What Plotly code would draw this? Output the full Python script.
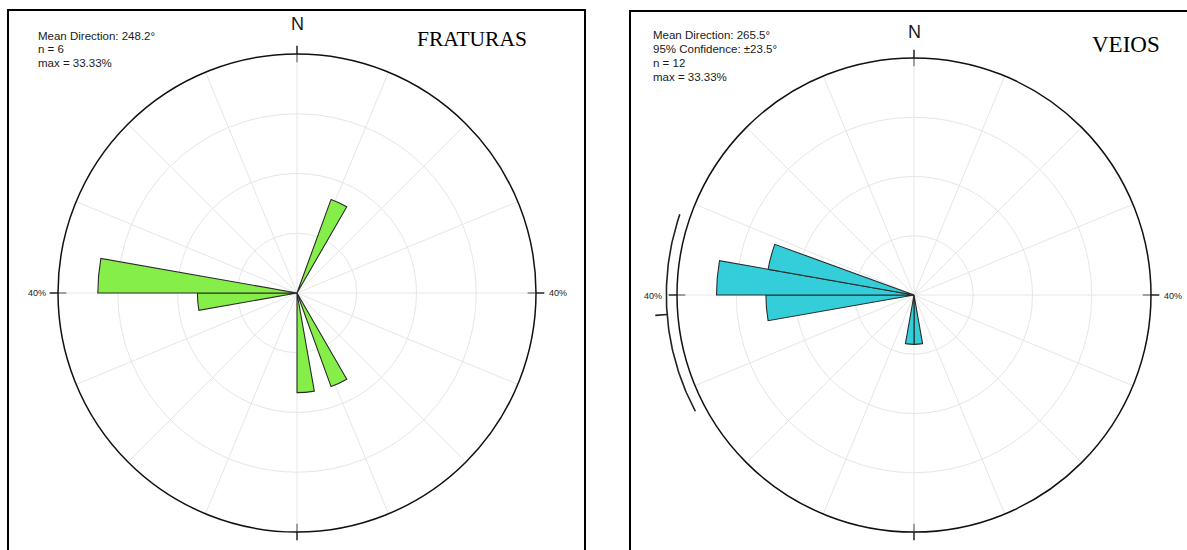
import numpy as np
import plotly.graph_objects as go

W, H = 1187, 550

# ---------------- data ----------------
frat_bin_start = [20, 150, 170, 260, 270]
frat_pct = [16.67, 16.67, 16.67, 16.67, 33.33]
frat_mean = 248.2
frat_n = 6

veio_bin_start = [170, 180, 260, 270, 280]
veio_pct = [8.33, 8.33, 25.0, 33.33, 25.0]
veio_mean = 265.5
veio_conf = 23.5
veio_n = 12

cardinal_dirs = [0, 90, 180, 270]
bin_width = 10
max_pct = 40
grid_pct = [10, 20, 30]

GREEN = "#86ee48"
CYAN = "#33ced9"

fig = go.Figure()


def px_x(x):
    return x / W


def px_y(y):
    return 1 - y / H


def xy(r, theta_deg):
    t = np.radians(np.asarray(theta_deg, dtype=float))
    r = np.asarray(r, dtype=float)
    return r * np.sin(t), r * np.cos(t)


def add_rose(polar, xa, ya, starts, pcts, color):
    fig.add_trace(go.Barpolar(
        r=pcts, theta=[s + bin_width / 2 for s in starts], width=[bin_width] * len(starts),
        marker=dict(color=color, line=dict(color="#2a2a2a", width=1.1)),
        subplot=polar, showlegend=False, hoverinfo="skip"))
    # cardinal ticks crossing the outer circle (drawn on an overlaid cartesian frame)
    xs, ys = [], []
    for a in cardinal_dirs:
        x, y = xy([max_pct * 0.965, max_pct * 1.035], [a, a])
        xs += list(x) + [None]
        ys += list(y) + [None]
    fig.add_trace(go.Scatter(x=xs, y=ys, mode="lines", xaxis=xa, yaxis=ya,
                             line=dict(color="black", width=1.3),
                             showlegend=False, hoverinfo="skip", cliponaxis=False))


add_rose("polar", "x", "y", frat_bin_start, frat_pct, GREEN)
add_rose("polar2", "x2", "y2", veio_bin_start, veio_pct, CYAN)

# confidence arc and mean-direction mark (VEIOS)
arc_th = np.linspace(veio_mean - veio_conf, veio_mean + veio_conf, 80)
ax_, ay_ = xy(np.full(arc_th.shape, max_pct * 1.045), arc_th)
fig.add_trace(go.Scatter(x=ax_, y=ay_, mode="lines", xaxis="x2", yaxis="y2",
                         line=dict(color="#222222", width=1.6),
                         showlegend=False, hoverinfo="skip", cliponaxis=False))
mx, my = xy([max_pct * 1.045, max_pct * 1.095], [veio_mean, veio_mean])
fig.add_trace(go.Scatter(x=mx, y=my, mode="lines", xaxis="x2", yaxis="y2",
                         line=dict(color="#222222", width=1.6),
                         showlegend=False, hoverinfo="skip", cliponaxis=False))


def domains(cx, cy, R):
    return [px_x(cx - R), px_x(cx + R)], [px_y(cy + R), px_y(cy - R)]


def polar_layout(cx, cy, R):
    dx, dy = domains(cx, cy, R)
    return dict(
        domain=dict(x=dx, y=dy),
        bgcolor="rgba(0,0,0,0)",
        angularaxis=dict(rotation=90, direction="clockwise", dtick=22.5,
                         showticklabels=False, ticks="", gridcolor="#e6e6e6",
                         gridwidth=1, linecolor="#111111", linewidth=1.5, showline=True),
        radialaxis=dict(range=[0, max_pct], tickvals=grid_pct, showticklabels=False,
                        ticks="", showline=False, gridcolor="#e6e6e6", gridwidth=1),
        barmode="overlay",
    )


def cart_axes(cx, cy, R):
    # full-paper cartesian frame with the same scale/centre as the polar subplot
    k = max_pct / R
    xa = dict(domain=[0, 1], range=[-cx * k, (W - cx) * k], visible=False, fixedrange=True)
    ya = dict(domain=[0, 1], range=[-(H - cy) * k, cy * k], visible=False, fixedrange=True)
    return xa, ya


L = (297, 293, 239)
Rr = (914, 295, 237)
xa1, ya1 = cart_axes(*L)
xa2, ya2 = cart_axes(*Rr)

fig.update_layout(
    width=W, height=H,
    margin=dict(l=0, r=0, t=0, b=0),
    paper_bgcolor="white", plot_bgcolor="rgba(0,0,0,0)",
    polar=polar_layout(*L),
    polar2=polar_layout(*Rr),
    xaxis=xa1, yaxis=ya1,
    xaxis2=xa2, yaxis2=ya2,
    font=dict(family="Liberation Sans, Arial", color="#111111"),
)

# panel borders
fig.add_shape(type="rect", xref="paper", yref="paper",
              x0=px_x(8), x1=px_x(585), y0=px_y(560), y1=px_y(10),
              line=dict(color="black", width=2), layer="above")
fig.add_shape(type="rect", xref="paper", yref="paper",
              x0=px_x(630), x1=px_x(1200), y0=px_y(560), y1=px_y(11),
              line=dict(color="black", width=2), layer="above")


def text(x, y, s, size, family="Liberation Sans, Arial", xanchor="left", color="#1a1a1a"):
    fig.add_annotation(x=px_x(x), y=px_y(y), xref="paper", yref="paper", text=s,
                       showarrow=False, xanchor=xanchor, yanchor="middle",
                       font=dict(size=size, family=family, color=color))


# left panel texts
text(36, 36, f"Mean Direction: {frat_mean}°", 11.5)
text(36, 49.5, f"n = {frat_n}", 11.5)
text(36, 63, f"max = {max(frat_pct):.2f}%", 11.5)
text(298, 24, "N", 18, xanchor="center")
text(415, 39, "FRATURAS", 21.5, family="Liberation Serif, Times New Roman", color="#000000")
text(48, 293, "40%", 9, xanchor="right")
text(547, 293, "40%", 9)

# right panel texts
text(651, 35, f"Mean Direction: {veio_mean}°", 11.5)
text(651, 49, f"95% Confidence: ±{veio_conf}°", 11.5)
text(651, 63, f"n = {veio_n}", 11.5)
text(651, 77, f"max = {max(veio_pct):.2f}%", 11.5)
text(914, 32, "N", 18, xanchor="center")
text(1090, 45, "VEIOS", 23, family="Liberation Serif, Times New Roman", color="#000000")
text(664, 296, "40%", 9, xanchor="right")
text(1162, 296, "40%", 9)

fig.write_html("out.html")
